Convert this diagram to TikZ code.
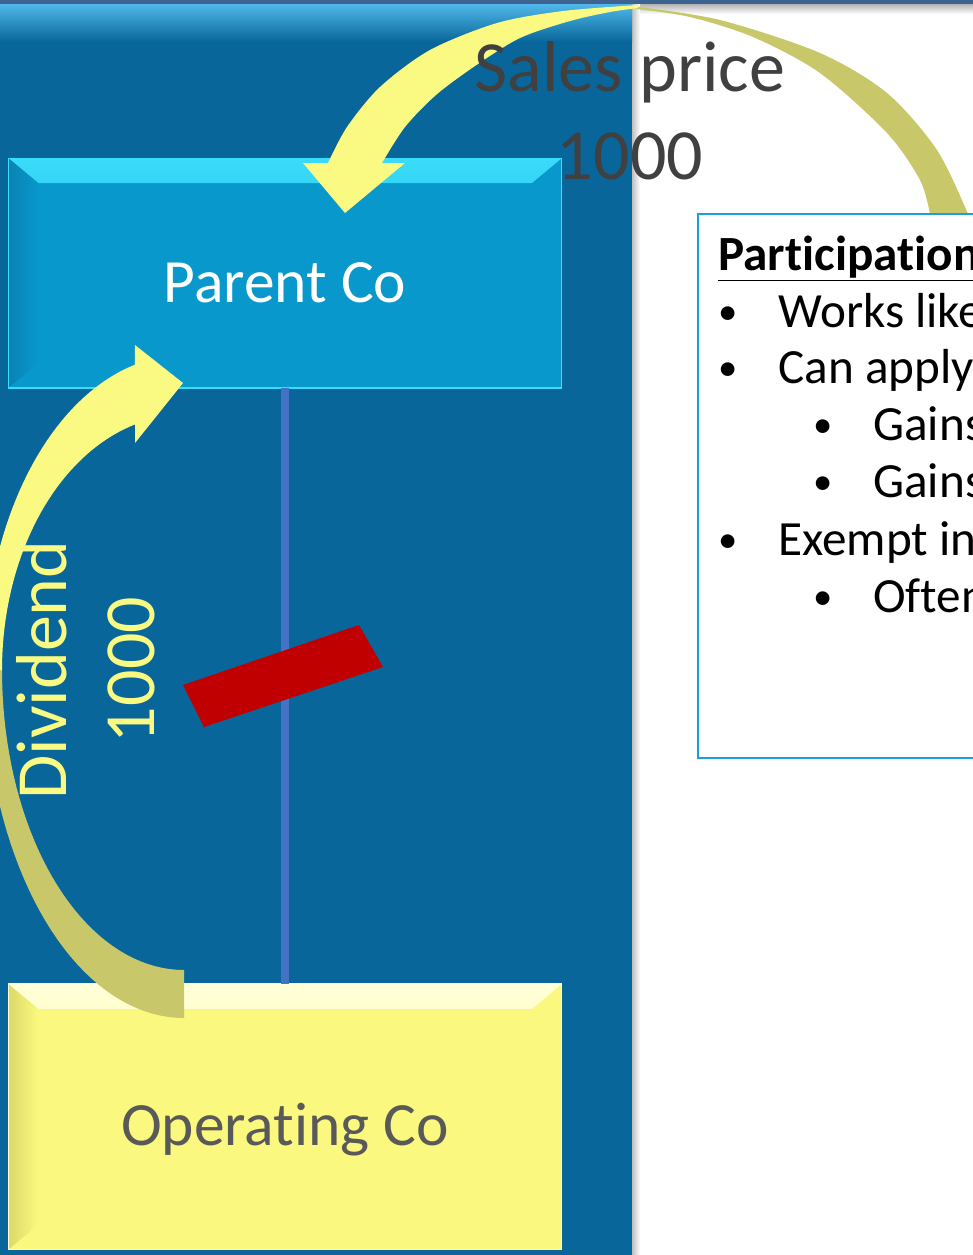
\documentclass[tikz,border=0pt]{standalone}
\usepackage{fontspec}
\setmainfont{Carlito}[Ligatures={NoCommon,NoContextual}]
\usetikzlibrary{positioning}
\newcommand\septi{t\kern0pt i}

\definecolor{panelblue}{HTML}{08669A}
\definecolor{panelhi}{HTML}{50B8EA}
\definecolor{topbar}{HTML}{3D6390}
\definecolor{parentblue}{HTML}{0898CB}
\definecolor{parentdark}{HTML}{0A82B4}
\definecolor{bevelcyan}{HTML}{3ADCFA}
\definecolor{opyellow}{HTML}{FAF87E}
\definecolor{opylight}{HTML}{FFFFD8}
\definecolor{opydark}{HTML}{DCD86A}
\definecolor{arrowyellow}{HTML}{FAFA82}
\definecolor{arrowolive}{HTML}{C8C86A}
\definecolor{textgray}{HTML}{404040}
\definecolor{opgray}{HTML}{595959}
\definecolor{barred}{HTML}{C00000}
\definecolor{linkblue}{HTML}{4472C4}
\definecolor{boxline}{HTML}{1E9ED8}

\begin{document}
\begin{tikzpicture}[x=0.02cm,y=-0.02cm,
  cobox/.style={minimum width=11.08cm,minimum height=4.6cm,inner sep=0pt,outer sep=0pt,
    text height=1.16cm,text depth=0pt,font=\fontsize{35}{42}\selectfont},
  bevel/.style n args={3}{fill=#2,draw=#1,line width=0.6pt,path picture={
    \fill[top color=#1,bottom color=#2] (path picture bounding box.north west) -- (path picture bounding box.north east)
      -- ([shift={(-0.6cm,-0.5cm)}]path picture bounding box.north east) -- ([shift={(0.6cm,-0.5cm)}]path picture bounding box.north west) -- cycle;
    \fill[left color=#3,right color=#2] (path picture bounding box.north west) -- ([shift={(0.6cm,-0.5cm)}]path picture bounding box.north west)
      -- ([shift={(0.6cm,0.5cm)}]path picture bounding box.south west) -- (path picture bounding box.south west) -- cycle;}},
  bigtext/.style={align=center,inner sep=0pt,font=\fontsize{41}{50}\selectfont},
  listtext/.style={anchor=base west,inner sep=0pt,font=\fontsize{28}{32}\selectfont},
  yellowarrow/.style={fill=arrowyellow},
  olivearrow/.style={fill=arrowolive}]
\useasboundingbox (0,0) rectangle (973,1255);
\clip (0,0) rectangle (973,1255);
% background
\fill[white] (0,0) rectangle (973,1255);
\fill[panelblue] (0,0) rectangle (632,1255);
\fill[top color=black!30,bottom color=white] (632,4) rectangle (973,14);
\fill[left color=black!25,right color=white] (632,4) rectangle (640,1255);
\fill[top color=panelhi,bottom color=panelblue] (0,4) rectangle (632,42);
\fill[topbar] (0,0) rectangle (973,4);
% companies
\node[cobox,bevel={bevelcyan}{parentblue}{parentdark},text=white] (parent) at (285,273) {Parent Co};
\node[cobox,bevel={opylight}{opyellow}{opydark},text=opgray,minimum height=5.32cm,below=11.92cm of parent] (opco) {Opera\septi ng Co};
\draw[linkblue,line width=4pt] (parent) -- (opco);
\fill[barred] (183,685) -- (359,625) -- (383,667) -- (204,727) -- cycle;
% sales price arrow
\fill[olivearrow] plot[smooth] coordinates {(632,6) (720,20) (820,53) (887,93) (937,150) (968,214)}
  -- plot[smooth] coordinates {(930,214) (920,180) (887,133) (820,73) (753,37) (690,17) (636,9)} -- cycle;
\fill[yellowarrow] plot[smooth] coordinates {(638,5) (563,11) (497,23) (430,50) (380,87) (347,127) (328,163)}
  -- (303,163) -- (345,213) -- (405,163) -- (382,163)
  -- plot[smooth] coordinates {(382,163) (405,127) (436,95) (475,66) (520,38) (570,21) (610,12) (638,8)} -- cycle;
% dividend arrow
\fill[olivearrow] plot[domain=90:180,samples=40] ({184+200*cos(\x)},{670+348*sin(\x)})
  -- plot[domain=180:90,samples=40] ({184+182*cos(\x)},{670+300*sin(\x)}) -- cycle;
\fill[yellowarrow] plot[domain=255.8:180,samples=40] ({184+200*cos(\x)},{670+315*sin(\x)})
  -- plot[domain=180:254.4,samples=40] ({184+182*cos(\x)},{670+255*sin(\x)})
  -- (135,443) -- (183,383) -- (135,345) -- cycle;
% participation exemption
\node[draw=boxline,line width=1.2pt,fill=white,minimum width=6.5cm,minimum height=10.88cm,anchor=north west,inner sep=0pt] (partbox) at (697,213) {};
\node[listtext,font={\fontsize{28}{32}\selectfont\bfseries}] (parthead) at (718,270) {\underline{Par\septi cipa\septi on}};
\foreach \yy/\lvl/\txt [count=\i] in {327/0/Works like,383/0/Can apply,440/1/Gains,497/1/Gains,555/0/Exempt inc,612/1/Often}{
  \node[listtext,font=\fontsize{22}{26}\selectfont] (dot\i) at ({718+95*\lvl},{\yy-3}) {\textbullet};
  \node[listtext] (item\i) at ({778+95*\lvl},\yy) {\txt};
}
% labels
\node[bigtext,text=textgray] (salestxt) at (630,111) {Sales price\\1000};
\node[bigtext,text=arrowyellow,rotate=90] (divtxt) at (86,670) {Dividend\\1000};
\end{tikzpicture}
\end{document}
